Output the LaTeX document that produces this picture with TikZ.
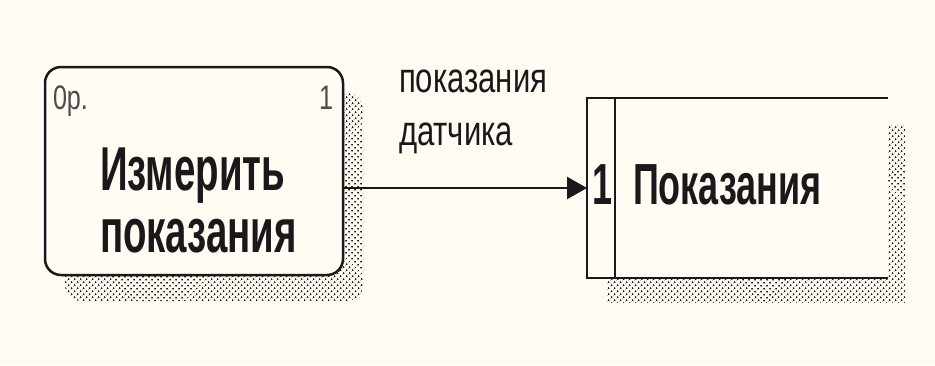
\documentclass[tikz,border=0pt]{standalone}
\usepackage{fontspec}
\setmainfont{Liberation Sans}
\newfontfamily\namefont[FakeStretch=0.62]{Liberation Sans}
\newfontfamily\smallfont[FakeStretch=0.74]{Liberation Sans}
\usepackage{tikz}
\usetikzlibrary{arrows.meta,positioning,backgrounds,patterns.meta}
\definecolor{paper}{RGB}{254,252,243}
\definecolor{ink}{RGB}{26,24,26}

\begin{document}
\begin{tikzpicture}[x=1pt,y=-1pt,
  every node/.style={inner sep=0pt, outer sep=0pt, text=ink},
  procbox/.style={rectangle, rounded corners=16pt, fill=paper, draw=ink, line width=2.5pt},
  storebox/.style={rectangle, fill=paper},
  shadowdots/.style={pattern={Dots[distance=4pt, angle=45, radius=1.1pt]}, pattern color=ink},
  nametext/.style={font=\namefont\bfseries\fontsize{62}{62}\selectfont, align=left},
  storetext/.style={font=\namefont\bfseries\fontsize{58}{58}\selectfont},
  tagtext/.style={font=\smallfont\fontsize{34}{34}\selectfont, text=black!70},
  flowtext/.style={font=\smallfont\fontsize{42}{53}\selectfont, align=left},
  flow/.style={draw=ink, line width=2.5pt, -{Triangle[length=20pt, width=22pt]}}]

% Process box
\node[procbox, minimum width=298pt, minimum height=208pt] (measure) at (194,171) {};
\node[nametext, anchor=north west] (measurename) at (100,148) {Измерить\\показания};
\node[tagtext, anchor=north west] (measureid) at (53,86) {0p.};
\node[tagtext, anchor=north east] (measurenum) at (333,86) {1};

% Data store
\node[storebox, minimum width=301pt, minimum height=180pt] (store) at (737.5,188) {};
\draw[draw=ink, line width=2.5pt] (store.north east) -- (store.north west) -- (store.south west) -- (store.south east);
\draw[draw=ink, line width=2.5pt] ([xshift=28pt]store.north west) -- ([xshift=28pt]store.south west);
\node[storetext, anchor=north west] (storeid) at (592,165) {1};
\node[storetext, anchor=north west] (storename) at (633,165) {Показания};

% Data flow
\draw[flow] (measure.east |- store.west) -- (store.west);
\node[flowtext, anchor=north west] (flowname) at (399,70) {показания\\датчика};

% Shadows
\begin{scope}[on background layer]
\fill[paper] (0,0) rectangle (935,365);
\fill[shadowdots, rounded corners=16pt] ([shift={(20,26)}]measure.north west) rectangle ([shift={(20,26)}]measure.south east);
\fill[shadowdots] ([shift={(20,27)}]store.north west) rectangle ([shift={(17,24)}]store.south east);
\end{scope}
\useasboundingbox (0,0) rectangle (935,365);
\end{tikzpicture}
\end{document}
